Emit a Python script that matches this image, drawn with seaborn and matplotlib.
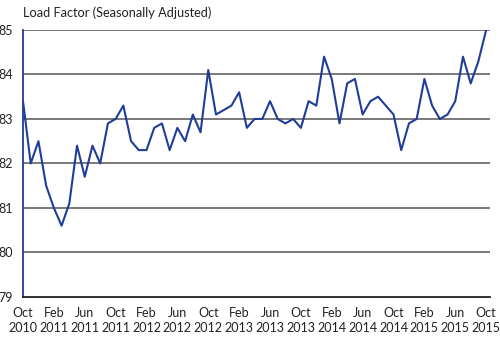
import matplotlib
matplotlib.use("Agg")
import matplotlib.pyplot as plt
import seaborn as sns
import pandas as pd

months = ["Oct 2010","Nov 2010","Dec 2010","Jan 2011","Feb 2011","Mar 2011","Apr 2011","May 2011","Jun 2011","Jul 2011","Aug 2011","Sep 2011",
          "Oct 2011","Nov 2011","Dec 2011","Jan 2012","Feb 2012","Mar 2012","Apr 2012","May 2012","Jun 2012","Jul 2012","Aug 2012","Sep 2012",
          "Oct 2012","Nov 2012","Dec 2012","Jan 2013","Feb 2013","Mar 2013","Apr 2013","May 2013","Jun 2013","Jul 2013","Aug 2013","Sep 2013",
          "Oct 2013","Nov 2013","Dec 2013","Jan 2014","Feb 2014","Mar 2014","Apr 2014","May 2014","Jun 2014","Jul 2014","Aug 2014","Sep 2014",
          "Oct 2014","Nov 2014","Dec 2014","Jan 2015","Feb 2015","Mar 2015","Apr 2015","May 2015","Jun 2015","Jul 2015","Aug 2015","Sep 2015",
          "Oct 2015"]
load_factor = [83.4, 82.0, 82.5, 81.5, 81.0, 80.6, 81.1, 82.4, 81.7, 82.4, 82.0, 82.9,
               83.0, 83.3, 82.5, 82.3, 82.3, 82.8, 82.9, 82.3, 82.8, 82.5, 83.1, 82.7,
               84.1, 83.1, 83.2, 83.3, 83.6, 82.8, 83.0, 83.0, 83.4, 83.0, 82.9, 83.0,
               82.8, 83.4, 83.3, 84.4, 83.9, 82.9, 83.8, 83.9, 83.1, 83.4, 83.5, 83.3,
               83.1, 82.3, 82.9, 83.0, 83.9, 83.3, 83.0, 83.1, 83.4, 84.4, 83.8, 84.3,
               85.0]
tick_labels = ["Oct\n2010","Feb\n2011","Jun\n2011","Oct\n2011","Feb\n2012","Jun\n2012","Oct\n2012","Feb\n2013",
               "Jun\n2013","Oct\n2013","Feb\n2014","Jun\n2014","Oct\n2014","Feb\n2015","Jun\n2015","Oct\n2015"]
y_ticks = [79, 80, 81, 82, 83, 84, 85]
title = "Load Factor (Seasonally Adjusted)"

sns.set_theme(style="white")
plt.rcParams['font.family'] = ['Lato', 'DejaVu Sans']

df = pd.DataFrame({"idx": range(len(months)), "month": months, "value": load_factor})

fig = plt.figure(figsize=(5.0, 3.37), dpi=100)
ax = fig.add_axes([0.046, 0.119, 0.934, 0.792])
line_color = "#1f3d99"
sns.lineplot(data=df, x="idx", y="value", ax=ax, color=line_color, linewidth=1.5)

ax.set_xlim(0, 60.5)
ax.set_ylim(79, 85)
ax.set_yticks(y_ticks)
ax.set_yticklabels([str(v) for v in y_ticks], fontsize=9, color="#222222")
ax.set_xticks(list(range(0, 61, 4)))
ax.set_xticklabels(tick_labels, fontsize=9, color="#222222", linespacing=1.35)
ax.tick_params(axis="x", direction="in", length=6, width=1, color="#333333", pad=7)
ax.tick_params(axis="y", length=0, pad=7)
for yv in y_ticks[1:]:
    ax.axhline(yv, color="#555555", linewidth=1.1, zorder=0)
ax.set_xlabel("")
ax.set_ylabel("")
for s in ["top", "right"]:
    ax.spines[s].set_visible(False)
ax.spines["left"].set_color(line_color)
ax.spines["left"].set_linewidth(1.3)
ax.spines["bottom"].set_color("#222222")
ax.spines["bottom"].set_linewidth(1.3)

fig.text(0.046, 0.962, title, fontsize=9.2, color="#222222", ha="left", va="center")
fig.savefig("out.png", dpi=100)
